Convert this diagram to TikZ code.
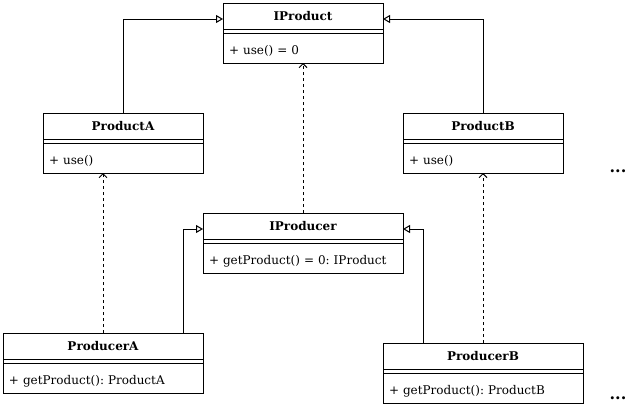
\documentclass[tikz,border=0pt]{standalone}
\usepackage{fontspec}
\setmainfont{DejaVu Serif}
\usetikzlibrary{arrows.meta}
\frenchspacing

\tikzset{
  ctitle/.style={draw, line width=1pt, outer sep=0pt, inner sep=0pt,
    minimum height=26pt, font=\fontsize{12}{14}\selectfont\bfseries},
  cbody/.style={draw, line width=1pt, outer sep=0pt, inner xsep=6pt, inner ysep=0pt,
    minimum height=30pt, text height=12pt, text depth=0pt, align=left,
    font=\fontsize{12}{14}\selectfont},
  inherit/.style={line width=1pt, -{Triangle[open, length=7pt, width=8pt]}},
  realize/.style={line width=1pt, dash pattern=on 3pt off 3pt,
    -{Straight Barb[length=4pt, width=8pt]}},
}

\begin{document}
\begin{tikzpicture}[x=1pt, y=-1pt]
  \useasboundingbox (0,0) rectangle (643,410);

  % classes
  \node[ctitle, minimum width=160pt] (iproduct) at (303,16) {IProduct};
  \node[cbody, text width=148pt] (iproduct-b) at (303,48) {+ use() = 0};

  \node[ctitle, minimum width=160pt] (producta) at (123,126) {ProductA};
  \node[cbody, text width=148pt] (producta-b) at (123,158) {+ use()};

  \node[ctitle, minimum width=160pt] (productb) at (483,126) {ProductB};
  \node[cbody, text width=148pt] (productb-b) at (483,158) {+ use()};

  \node[ctitle, minimum width=200pt] (iproducer) at (303,226) {IProducer};
  \node[cbody, text width=188pt] (iproducer-b) at (303,258) {+ getProduct() = 0: IProduct};

  \node[ctitle, minimum width=200pt] (producera) at (103,346) {ProducerA};
  \node[cbody, text width=188pt] (producera-b) at (103,378) {+ getProduct(): ProductA};

  \node[ctitle, minimum width=200pt] (producerb) at (483,356) {ProducerB};
  \node[cbody, text width=188pt] (producerb-b) at (483,388) {+ getProduct(): ProductB};

  \foreach \c in {iproduct,producta,productb,iproducer,producera,producerb}
    \draw[line width=1pt] (\c.south west) -- (\c-b.north west)
      (\c.south east) -- (\c-b.north east);

  \node (dots1) at (618,171) {\fontsize{16}{18}\selectfont\textbf{...}};
  \node (dots2) at (618,398) {\fontsize{16}{18}\selectfont\textbf{...}};

  % relations
  \draw[inherit] (producta.north) |- ([yshift=-3pt]iproduct.west);
  \draw[inherit] (productb.north) |- ([yshift=-3pt]iproduct.east);
  \draw[realize] (iproducer.north) -- (iproduct-b.south);
  \draw[realize] (producera.north) -- (producera.north |- producta-b.south);
  \draw[inherit] ([xshift=80pt]producera.north) |- ([yshift=-3pt]iproducer.west);
  \draw[realize] (producerb.north) -- (productb-b.south);
  \draw[inherit] ([xshift=-60pt]producerb.north) |- ([yshift=-3pt]iproducer.east);
\end{tikzpicture}
\end{document}
